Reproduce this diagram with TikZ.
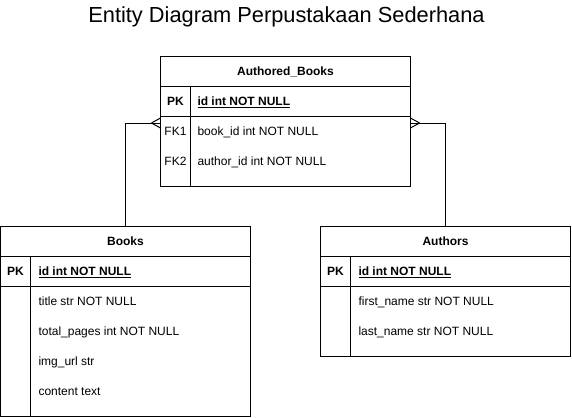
\documentclass[tikz,border=0pt]{standalone}
\usepackage{fontspec}
\setmainfont{Liberation Sans}
\usetikzlibrary{positioning}

\begin{document}
\begin{tikzpicture}[x=1pt,y=-1pt,line width=1pt,node distance=30pt,on grid,
   font=\fontsize{12}{14}\selectfont,
   table/.style={draw,minimum width=250pt,outer sep=0pt,inner sep=0pt},
   head/.style={inner sep=0pt,font=\fontsize{12}{14}\selectfont\bfseries},
   key/.style={inner sep=0pt,text height=8.6pt,text depth=0pt},
   field/.style={anchor=west,inner sep=0pt,text height=8.6pt,text depth=0pt}]
   \useasboundingbox (0,0) rectangle (572,417);
   \node[anchor=base,inner sep=0pt,font=\fontsize{21.8}{26}\selectfont] (title) at (286.5,22.5) {Entity Diagram Perpustakaan Sederhana};

   % Authored_Books
   \node[table,minimum height=130pt] (ab) at (285.5,121.5) {};
   \draw ([yshift=-30pt]ab.north west) -- ([yshift=-30pt]ab.north east);
   \draw ([yshift=-60pt]ab.north west) -- ([yshift=-60pt]ab.north east);
   \draw ([xshift=30pt,yshift=-30pt]ab.north west) -- ([xshift=30pt]ab.south west);
   \node[head] (ab-name) at (285.5,71.5) {Authored\_Books};
   \node[key,font=\fontsize{12}{14}\selectfont\bfseries] (ab-pk) at (175.5,101.5) {PK};
   \node[key] (ab-fk1) [below=of ab-pk] {FK1};
   \node[key] (ab-fk2) [below=of ab-fk1] {FK2};
   \node[field,font=\fontsize{12}{14}\selectfont\bfseries] (ab-id) at (197,101.5) {\underline{id int NOT NULL}};
   \node[field] (ab-book) [below=of ab-id.west,anchor=west] {book\_id int NOT NULL};
   \node[field] (ab-author) [below=of ab-book.west,anchor=west] {author\_id int NOT NULL};

   % Books
   \node[table,minimum height=190pt] (books) at (125.5,321.5) {};
   \draw ([yshift=-30pt]books.north west) -- ([yshift=-30pt]books.north east);
   \draw ([yshift=-60pt]books.north west) -- ([yshift=-60pt]books.north east);
   \draw ([xshift=30pt,yshift=-30pt]books.north west) -- ([xshift=30pt]books.south west);
   \node[head] (books-name) at (125.5,241.5) {Books};
   \node[key,font=\fontsize{12}{14}\selectfont\bfseries] (books-pk) at (15.5,271.5) {PK};
   \node[field,font=\fontsize{12}{14}\selectfont\bfseries] (books-id) at (38,271.5) {\underline{id int NOT NULL}};
   \node[field] (books-title) [below=of books-id.west,anchor=west] {title str NOT NULL};
   \node[field] (books-pages) [below=of books-title.west,anchor=west] {total\_pages int NOT NULL};
   \node[field] (books-img) [below=of books-pages.west,anchor=west] {img\_url str};
   \node[field] (books-content) [below=of books-img.west,anchor=west] {content text};

   % Authors
   \node[table,minimum height=130pt] (authors) at (445.5,291.5) {};
   \draw ([yshift=-30pt]authors.north west) -- ([yshift=-30pt]authors.north east);
   \draw ([yshift=-60pt]authors.north west) -- ([yshift=-60pt]authors.north east);
   \draw ([xshift=30pt,yshift=-30pt]authors.north west) -- ([xshift=30pt]authors.south west);
   \node[head] (authors-name) at (445.5,241.5) {Authors};
   \node[key,font=\fontsize{12}{14}\selectfont\bfseries] (authors-pk) at (335.5,271.5) {PK};
   \node[field,font=\fontsize{12}{14}\selectfont\bfseries] (authors-id) at (358,271.5) {\underline{id int NOT NULL}};
   \node[field] (authors-first) [below=of authors-id.west,anchor=west] {first\_name str NOT NULL};
   \node[field] (authors-last) [below=of authors-first.west,anchor=west] {last\_name str NOT NULL};

   % relations (crow's foot on Authored_Books)
   \coordinate (ab-in) at (ab.west |- 0,123);
   \coordinate (ab-out) at (ab.east |- 0,123);
   \draw (books.north) |- (ab-in);
   \draw ([xshift=-9pt]ab-in) -- ([yshift=5pt]ab-in);
   \draw ([xshift=-9pt]ab-in) -- ([yshift=-5pt]ab-in);
   \draw (authors.north) |- (ab-out);
   \draw ([xshift=9pt]ab-out) -- ([yshift=5pt]ab-out);
   \draw ([xshift=9pt]ab-out) -- ([yshift=-5pt]ab-out);
\end{tikzpicture}
\end{document}
